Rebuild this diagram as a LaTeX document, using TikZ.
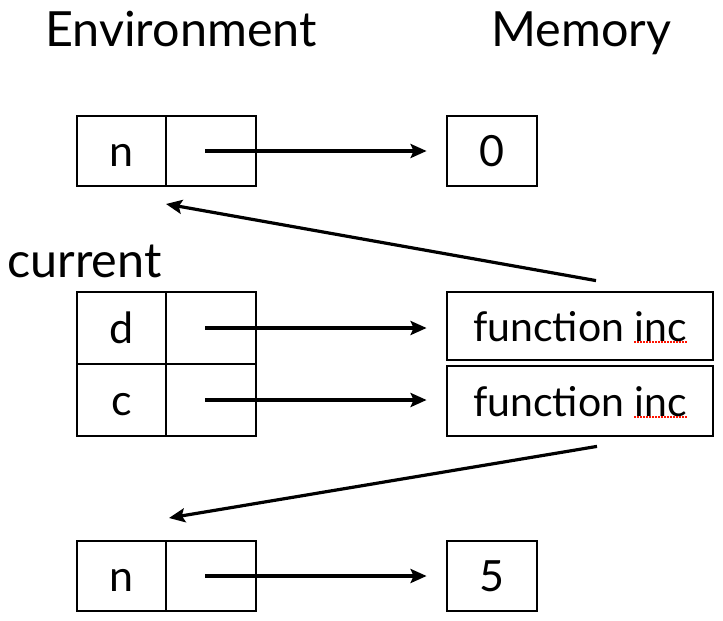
\documentclass[tikz,border=0pt]{standalone}
\usepackage{fontspec}
\setmainfont{Lato}
\usetikzlibrary{arrows.meta}
\tikzset{
  title/.style={font=\fontsize{48.5}{52}\selectfont, inner sep=0pt, anchor=base},
  envcell/.style={draw, line width=2pt, minimum height=70pt, inner sep=0pt,
    font=\fontsize{43}{46}\selectfont, text height=30pt, text depth=0pt},
  memcell/.style={draw, line width=2.8pt, minimum height=70pt, inner sep=0pt,
    font=\fontsize{43}{46}\selectfont, text height=30pt, text depth=0pt},
  fncell/.style={memcell, font=\fontsize{41}{44}\selectfont},
  ptr/.style={line width=3.2pt, -{Stealth[length=16pt,width=14pt,inset=3pt]}},
  spell/.style={draw=red!85!orange, line width=1.6pt, dash pattern=on 1.6pt off 1.4pt}
}
\begin{document}
\begin{tikzpicture}[x=1pt,y=-1pt]
\useasboundingbox (0,0) rectangle (723,621);
% titles
\node[title] (tenv) at (181,46) {Environment};
\node[title] (tmem) at (581.5,46) {Memory};
\node[title, anchor=base west] (tcur) at (7,277) {current};
% top frame
\node[envcell, minimum width=89pt] (n1k) at (121.5,151) {n};
\node[envcell, minimum width=90pt] (n1v) at (211,151) {};
\node[memcell, minimum width=90pt] (m0) at (492,151) {0};
% current frame
\node[envcell, minimum width=89pt, minimum height=72pt] (dk) at (121.5,328) {d};
\node[envcell, minimum width=90pt, minimum height=72pt] (dv) at (211,328) {};
\node[envcell, minimum width=89pt, minimum height=72pt] (ck) at (121.5,400) {c};
\node[envcell, minimum width=90pt, minimum height=72pt] (cv) at (211,400) {};
\node[fncell, minimum width=266pt, minimum height=68pt] (fd) at (580,326) {function inc};
\node[fncell, minimum width=266pt, minimum height=70pt] (fc) at (580,401) {function inc};
% bottom frame
\node[envcell, minimum width=89pt] (n2k) at (121.5,576) {n};
\node[envcell, minimum width=90pt] (n2v) at (211,576) {};
\node[memcell, minimum width=90pt] (m5) at (492,576) {5};
% spell-check underlines
\draw[spell] ([xshift=-80pt,yshift=-16pt]fd.east) -- ([xshift=-27pt,yshift=-16pt]fd.east);
\draw[spell] ([xshift=-80pt,yshift=-16pt]fc.east) -- ([xshift=-27pt,yshift=-16pt]fc.east);
% pointers
\draw[ptr] ([xshift=-6pt]n1v.center) -- ([xshift=-19pt]m0.west);
\draw[ptr] ([xshift=-6pt]dv.center) -- ([xshift=-19pt]fd.west |- dv.center);
\draw[ptr] ([xshift=-6pt]cv.center) -- ([xshift=-19pt]fc.west |- cv.center);
\draw[ptr] ([xshift=-6pt]n2v.center) -- ([xshift=-19pt]m5.west);
\draw[ptr] ([xshift=16pt,yshift=10pt]fd.north) -- ([xshift=-1pt,yshift=-17pt]n1k.south east);
\draw[ptr] ([xshift=17pt,yshift=-9pt]fc.south) -- ([xshift=2pt,yshift=22pt]n2k.north east);
\end{tikzpicture}
\end{document}
